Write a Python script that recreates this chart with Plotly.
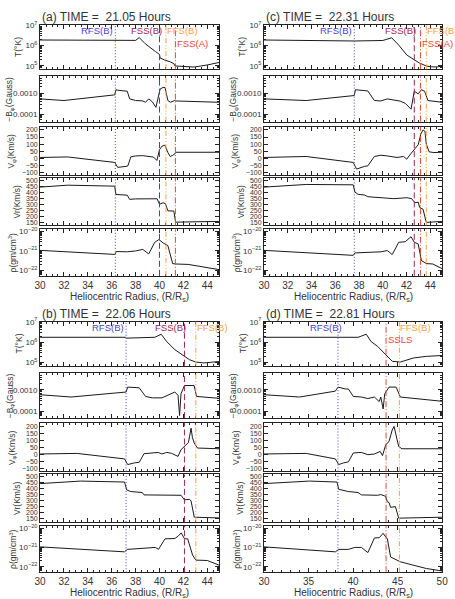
import plotly.graph_objects as go

W, H = 455, 599

TITLES = ["(a) TIME = &nbsp;21.05 Hours", "(b) TIME = &nbsp;22.06 Hours",
          "(c) TIME = &nbsp;22.31 Hours", "(d) TIME = &nbsp;22.81 Hours"]
XMAX = [45, 45, 45, 50]
XDTICK = [2, 2, 2, 5]

# ---------------- panel (a) ----------------
A_T_R = [30, 36.2, 36.3, 38.0, 38.3, 38.8, 39.65, 40.0, 40.05, 40.4, 40.9, 41.2, 41.3, 42.0, 42.9, 44.0, 45.0]
A_T = [1.9e6, 1.86e6, 1.74e6, 1.82e6, 2.5e6, 1.26e6, 5.2e5, 3.7e5, 2.5e5, 2.0e5, 1.6e5, 1.3e5, 1.0e5, 9.5e4, 8.9e4, 1.12e5, 1.5e5]
A_B_R = [30, 32.0, 36.25, 36.35, 36.6, 37.3, 37.5, 38.0, 38.6, 38.83, 39.1, 39.4, 39.7, 39.95, 40.05, 40.3, 40.46, 40.7, 40.9, 41.28, 41.35, 45]
A_B = [5.5e-4, 4.6e-4, 8.5e-4, 1.48e-3, 1.38e-3, 1.26e-3, 5.5e-4, 4.6e-4, 4.4e-4, 3.8e-4, 5.5e-4, 4.0e-4, 2.2e-4, 1.0e-3, 1.6e-3, 1.9e-3, 1.9e-3, 4.6e-4, 3.8e-4, 4.6e-4, 4.4e-4, 3.8e-4]
A_VP_R = [30, 32.3, 36.25, 36.5, 37.2, 37.35, 37.6, 38.0, 38.6, 39.1, 39.5, 39.78, 40.0, 40.2, 40.45, 40.7, 40.9, 41.1, 41.28, 41.35, 45]
A_VP = [5, 9, -30, -65, -58, -55, 10, 16, 18, 14, 8, -16, 60, 85, 92, 40, 12, 20, 30, 42, 42]
A_VR_R = [30, 32.3, 36.25, 36.35, 37.3, 37.5, 38.0, 39.8, 40.0, 40.3, 40.5, 40.7, 41.2, 41.35, 45]
A_VR = [443, 459, 451, 382, 376, 341, 345, 346, 300, 313, 305, 246, 244, 152, 158]
A_RHO_R = [30, 36.25, 36.4, 37.3, 38.0, 38.6, 39.1, 39.6, 39.95, 40.3, 40.7, 41.1, 41.35, 42.4, 45]
A_RHO = [1.07e-21, 6.6e-22, 9.3e-22, 9.0e-22, 1.0e-21, 1.2e-21, 7.0e-22, 2.8e-21, 3.9e-21, 2.6e-21, 1.9e-21, 2.2e-22, 2.1e-22, 2.0e-22, 1.07e-22]
A_SHOCKS = [("RFS(B)", 36.3), ("FSS(B)", 40.0), ("FFS(B)", 40.54), ("FSS(A)", 41.33)]

# ---------------- panel (b) ----------------
B_T_R = [30, 37.15, 37.25, 39.6, 40.14, 40.6, 41.28, 42.09, 42.5, 43.04, 43.72, 45]
B_T = [1.74e6, 1.74e6, 1.58e6, 1.74e6, 2.45e6, 1.07e6, 4.3e5, 2.0e5, 1.38e5, 1.05e5, 9.5e4, 1.12e5]
B_B_R = [30, 32.6, 37.2, 37.34, 38.3, 38.83, 39.4, 40.2, 41.28, 41.55, 41.68, 41.8, 42.09, 42.9, 43.1, 45]
B_B = [5.9e-4, 4.6e-4, 7.9e-4, 1.35e-3, 1.25e-3, 4.9e-4, 4.2e-4, 4.2e-4, 7.9e-4, 5.5e-4, 6.2e-5, 6.5e-4, 1.6e-3, 1.6e-3, 4.9e-4, 4.0e-4]
B_VP_R = [30, 33.1, 37.07, 37.34, 37.9, 38.3, 38.7, 39.9, 40.2, 40.6, 41.0, 41.55, 41.8, 42.23, 42.42, 42.52, 42.64, 42.76, 42.91, 43.18, 45]
B_VP = [5, 9, -30, -70, -58, -54, 7, 16, 5, 16, 10, -12, 35, 70, 86, 130, 188, 120, 82, 47, 42]
B_VR_R = [30, 33.4, 37.07, 37.26, 37.6, 38.56, 38.7, 41.8, 42.09, 42.5, 42.64, 42.91, 45]
B_VR = [443, 464, 456, 390, 377, 369, 349, 346, 308, 312, 300, 164, 158]
B_RHO_R = [30, 37.07, 37.3, 38.3, 39.4, 39.65, 39.92, 40.46, 41.28, 41.55, 41.82, 42.09, 42.36, 42.77, 43.04, 44.0, 45]
B_RHO = [1.07e-21, 5.9e-22, 7.9e-22, 8.5e-22, 9.3e-22, 1.0e-21, 8.0e-22, 2.8e-21, 2.9e-21, 3.8e-21, 5.7e-21, 2.8e-21, 2.8e-21, 4.0e-22, 2.2e-22, 2.1e-22, 1.2e-22]
B_SHOCKS = [("RFS(B)", 37.2), ("FSS(B)", 42.09), ("FFS(B)", 43.04)]

# ---------------- panel (c) ----------------
C_T_R = [30, 37.6, 40.0, 40.38, 40.75, 41.34, 42.02, 42.65, 43.11, 43.66, 44.07, 44.6, 45]
C_T = [1.9e6, 1.7e6, 1.8e6, 2.1e6, 2.45e6, 1.07e6, 3.5e5, 2.0e5, 1.38e5, 1.0e5, 9.1e4, 9.0e4, 1.0e5]
C_B_R = [30, 33.55, 37.6, 37.7, 38.74, 39.29, 39.84, 40.38, 41.48, 41.89, 42.38, 42.65, 42.98, 43.25, 43.52, 43.8, 45]
C_B = [5.5e-4, 4.6e-4, 7.9e-4, 1.48e-3, 1.3e-3, 4.6e-4, 4.4e-4, 5.5e-4, 4.3e-4, 3.4e-4, 1.8e-4, 1.26e-3, 9.5e-4, 1.48e-3, 1.26e-3, 4.6e-4, 3.8e-4]
C_VP_R = [30, 33.55, 37.51, 37.79, 38.47, 38.74, 39.29, 39.84, 40.38, 41.2, 41.75, 42.02, 42.21, 42.65, 42.98, 43.2, 43.39, 43.55, 43.66, 43.9, 44.3, 45]
C_VP = [5, 12, -30, -77, -58, -54, 12, 21, 16, 5, 12, -7, 16, 58, 95, 170, 200, 190, 100, 45, 40, 42]
C_VR_R = [30, 33.55, 37.51, 37.65, 37.92, 38.47, 38.74, 39.84, 40.93, 42.02, 42.43, 42.70, 42.98, 43.11, 43.39, 43.66, 45]
C_VR = [443, 465, 462, 402, 383, 377, 363, 355, 347, 355, 347, 313, 318, 273, 259, 150, 158]
C_RHO_R = [30, 37.51, 37.65, 38.74, 39.84, 40.38, 40.79, 41.34, 41.89, 42.38, 42.65, 42.98, 43.25, 43.66, 44.21, 45]
C_RHO = [1.07e-21, 5.9e-22, 7.9e-22, 8.8e-22, 9.0e-22, 1.05e-21, 6.5e-22, 2.8e-21, 3.0e-21, 5.5e-21, 2.8e-21, 2.3e-21, 3.2e-22, 2.2e-22, 2.1e-22, 1.2e-22]
C_SHOCKS = [("RFS(B)", 37.6), ("FSS(B)", 42.65), ("FSS(A)", 43.17), ("FFS(B)", 43.66)]

# ---------------- panel (d) ----------------
D_T_R = [30, 38.3, 40.56, 41.48, 42.02, 42.75, 43.48, 44.03, 44.39, 45.3, 46.76, 48.21, 50]
D_T = [1.74e6, 1.7e6, 1.74e6, 2.45e6, 1.07e6, 6.2e5, 2.9e5, 1.66e5, 1.15e5, 1.05e5, 1.66e5, 2.0e5, 2.2e5]
D_B_R = [30, 34.0, 38.0, 38.31, 39.11, 39.47, 40.02, 40.93, 41.66, 42.39, 42.93, 43.11, 43.37, 43.55, 44.03, 44.83, 45.3, 50]
D_B = [5.9e-4, 4.6e-4, 8.7e-4, 1.35e-3, 1.1e-3, 1.1e-3, 4.9e-4, 4.6e-4, 3.9e-4, 4.6e-4, 2.8e-4, 4.6e-4, 1.26e-4, 6.5e-4, 1.35e-3, 1.35e-3, 4.6e-4, 2.9e-4]
D_VP_R = [30, 34.74, 38.01, 38.38, 38.93, 39.47, 40.02, 40.93, 41.66, 42.39, 43.04, 43.3, 43.66, 44.03, 44.39, 44.6, 44.94, 45.12, 45.48, 50]
D_VP = [5, 9, -30, -70, -58, -51, 12, 16, 0, 5, 23, -7, 70, 93, 175, 200, 105, 58, 42, 42]
D_VR_R = [30, 35.1, 38.2, 38.38, 39.47, 40.56, 40.93, 42.75, 43.11, 43.66, 43.84, 44.03, 44.21, 44.75, 45.12, 50]
D_VR = [443, 464, 456, 396, 377, 369, 349, 346, 352, 337, 292, 286, 246, 252, 156, 164]
D_RHO_R = [30, 38.01, 38.38, 39.47, 40.2, 40.93, 41.66, 42.39, 42.93, 43.37, 43.66, 43.84, 44.21, 44.57, 45.3, 46.76, 48.21, 50]
D_RHO = [1.07e-21, 5.9e-22, 7.9e-22, 7.9e-22, 1.0e-21, 1.0e-21, 5.4e-22, 3.1e-21, 3.2e-21, 5.4e-21, 3.5e-21, 2.9e-21, 3.2e-22, 2.6e-22, 1.8e-22, 1.2e-22, 8.1e-23, 6.0e-23]
D_SHOCKS = [("RFS(B)", 38.3), ("SSLS", 43.7), ("FFS(B)", 45.2)]

PANELS = [
    [(A_T_R, A_T), (A_B_R, A_B), (A_VP_R, A_VP), (A_VR_R, A_VR), (A_RHO_R, A_RHO)],
    [(B_T_R, B_T), (B_B_R, B_B), (B_VP_R, B_VP), (B_VR_R, B_VR), (B_RHO_R, B_RHO)],
    [(C_T_R, C_T), (C_B_R, C_B), (C_VP_R, C_VP), (C_VR_R, C_VR), (C_RHO_R, C_RHO)],
    [(D_T_R, D_T), (D_B_R, D_B), (D_VP_R, D_VP), (D_VR_R, D_VR), (D_RHO_R, D_RHO)],
]
SHOCKS = [A_SHOCKS, B_SHOCKS, C_SHOCKS, D_SHOCKS]

Y_TITLES = ["T(°K)", "−B<sub>φ</sub>(Gauss)", "V<sub>φ</sub>(Km/s)", "Vr(Km/s)", "ρ(gm/cm<sup>3</sup>)"]
T_TICKS = [1e5, 1e6, 1e7]
T_LABELS = ["10<sup>5</sup>", "10<sup>6</sup>", "10<sup>7</sup>"]
B_TICKS = [1e-4, 1e-3]
B_LABELS = ["0.0001", "0.0010"]
VP_TICKS = [-100, -50, 0, 50, 100, 150, 200]
VR_TICKS = [150, 200, 250, 300, 350, 400, 450, 500]
RHO_TICKS = [1e-22, 1e-21, 1e-20]
RHO_LABELS = ["10<sup>−22</sup>", "10<sup>−21</sup>", "10<sup>−20</sup>"]

# ---------------- layout geometry (pixels) ----------------
ROW_TOP = [20.5, 72, 123, 175, 227]
ROW_BOT = [65, 118, 172, 223, 274]
PANEL_DY = [0, 300, 0, 300]
PANEL_X = [(35, 219), (35, 219), (265, 448), (265, 448)]
YTITLE_PX = [13, 4, 6, 11, 7]

STYLE = {
    "RFS(B)": ("#4b40cc", "1px,2px", 0, "right", 0),
    "FSS(B)": ("#9c2658", "6px,3px", 0, "right", 4),
    "FFS(B)": ("#f4a24a", "5px,2px,1px,2px,1px,2px", 0, "left", -1),
    "FSS(A)": ("#e6473a", "6px,2px,1px,2px", 1, "left", 0),
    "SSLS": ("#e6473a", "6px,2px,1px,2px", 1, "left", 0),
}
LABEL_Y = [26, 38.5]

FONT = "Liberation Sans, Arial, sans-serif"
INK = "#222222"
TXT = "#333333"

fig = go.Figure()
layout = {}
shapes = []
annotations = []


def ax(k, letter):
    return letter if k == 1 else f"{letter}{k}"


for p in range(4):
    x0p, x1p = PANEL_X[p]
    dy = PANEL_DY[p]
    for r in range(5):
        k = p * 5 + r + 1
        xa, ya = ax(k, "x"), ax(k, "y")
        xr, yv = PANELS[p][r]
        fig.add_trace(go.Scatter(x=xr, y=yv, mode="lines", xaxis=xa, yaxis=ya,
                                 line=dict(color="#1a1a1a", width=1), hoverinfo="skip",
                                 showlegend=False))
        top, bot = ROW_TOP[r] + dy, ROW_BOT[r] + dy
        common = dict(showline=True, linecolor=INK, linewidth=1, mirror="allticks",
                      ticks="inside", ticklen=4, tickcolor=INK, tickwidth=1,
                      showgrid=False, zeroline=False, fixedrange=True)
        xaxis = dict(common, domain=[x0p / W, x1p / W], anchor=ya,
                     range=[30, XMAX[p]], dtick=XDTICK[p], tick0=30,
                     minor=dict(ticks="inside", ticklen=2, tickcolor=INK,
                                dtick=XDTICK[p] / 4 if p < 3 else 1),
                     showticklabels=(r == 4),
                     tickfont=dict(family=FONT, size=10, color=TXT))
        yaxis = dict(common, domain=[1 - bot / H, 1 - top / H], anchor=xa,
                     tickfont=dict(family=FONT, size=8, color=TXT))
        if r == 0:
            yaxis.update(type="log", range=[4.84, 7.005], tickmode="array",
                         tickvals=T_TICKS, ticktext=T_LABELS,
                         minor=dict(ticks="inside", ticklen=2, tickcolor=INK, dtick="D1"))
        elif r == 1:
            yaxis.update(type="log", range=[-4.33, -2.19], tickmode="array",
                         tickvals=B_TICKS, ticktext=B_LABELS,
                         minor=dict(ticks="inside", ticklen=2, tickcolor=INK, dtick="D1"))
        elif r == 2:
            yaxis.update(range=[-119, 224], tickmode="array", tickvals=VP_TICKS,
                         tickfont=dict(family=FONT, size=7, color=TXT))
        elif r == 3:
            yaxis.update(range=[125, 519], tickmode="array", tickvals=VR_TICKS,
                         tickfont=dict(family=FONT, size=7, color=TXT))
        else:
            yaxis.update(type="log", range=[-22.29, -19.88], tickmode="array",
                         tickvals=RHO_TICKS, ticktext=RHO_LABELS,
                         minor=dict(ticks="inside", ticklen=2, tickcolor=INK, dtick="D1"))
        layout[ax(k, "xaxis")] = xaxis
        layout[ax(k, "yaxis")] = yaxis

        # y title
        annotations.append(dict(text=Y_TITLES[r], xref="paper", yref="paper",
                                x=(YTITLE_PX[r] + (x0p - 35)) / W,
                                y=1 - ((top + bot) / 2) / H, textangle=-90,
                                showarrow=False, xanchor="center", yanchor="middle",
                                font=dict(family=FONT, size=8.5, color=TXT)))
        # shock lines
        for name, pos in SHOCKS[p]:
            col, dash, _, _, _ = STYLE[name]
            shapes.append(dict(type="line", xref=xa, yref=f"{ya} domain",
                               x0=pos, x1=pos, y0=0, y1=1,
                               line=dict(color=col, width=1, dash=dash)))

    # shock labels
    xa0 = ax(p * 5 + 1, "x")
    for name, pos in SHOCKS[p]:
        col, dash, row, anchor, shift = STYLE[name]
        if p == 3 and name == "RFS(B)":
            shift = 6
        annotations.append(dict(text=name, xref=xa0, yref="paper", x=pos,
                                y=1 - (LABEL_Y[row] + dy) / H, xanchor=anchor,
                                yanchor="middle", xshift=shift, showarrow=False,
                                font=dict(family=FONT, size=9.5, color=col)))
    # panel title
    annotations.append(dict(text=TITLES[p], xref="paper", yref="paper",
                            x=x0p / W, y=1 - (12.3 + dy) / H, xanchor="left",
                            yanchor="middle", showarrow=False,
                            font=dict(family=FONT, size=12, color=TXT)))
    # x title
    annotations.append(dict(text="Heliocentric Radius, (R/R<sub>s</sub>)",
                            xref="paper", yref="paper", x=(x0p + x1p) / 2 / W,
                            y=1 - (295 + dy) / H, xanchor="center", yanchor="middle",
                            showarrow=False, font=dict(family=FONT, size=10, color=TXT)))

fig.update_layout(**layout)
fig.update_layout(width=W, height=H, margin=dict(l=0, r=0, t=0, b=0),
                  paper_bgcolor="white", plot_bgcolor="white", showlegend=False,
                  shapes=shapes, annotations=annotations)
fig.write_html("out.html")
